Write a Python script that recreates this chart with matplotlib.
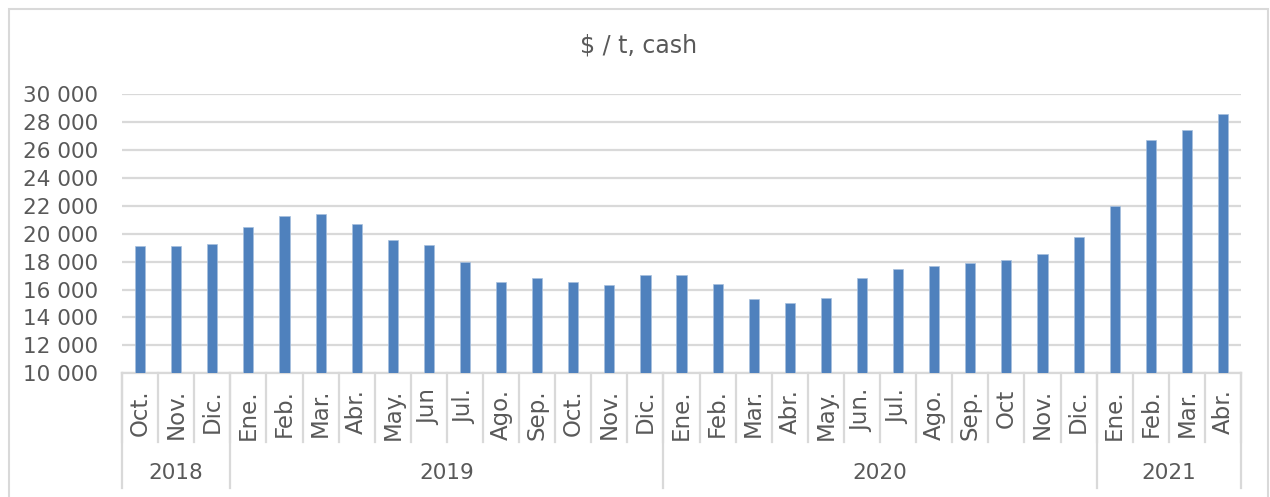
import matplotlib
matplotlib.use('Agg')
import matplotlib.pyplot as plt
from matplotlib.patches import Rectangle
from matplotlib.ticker import FuncFormatter
import numpy as np

months = ['Oct.', 'Nov.', 'Dic.',
          'Ene.', 'Feb.', 'Mar.', 'Abr.', 'May.', 'Jun', 'Jul.', 'Ago.', 'Sep.', 'Oct.', 'Nov.', 'Dic.',
          'Ene.', 'Feb.', 'Mar.', 'Abr.', 'May.', 'Jun.', 'Jul.', 'Ago.', 'Sep.', 'Oct', 'Nov.', 'Dic.',
          'Ene.', 'Feb.', 'Mar.', 'Abr.']
years = ['2018', '2019', '2020', '2021']
months_per_year = [3, 12, 12, 4]
prices = [19120, 19140, 19240,
          20480, 21240, 21430, 20670, 19520, 19170, 17970, 16540, 16820, 16560, 16320, 17060,
          17040, 16420, 15300, 15030, 15390, 16800, 17470, 17660, 17920, 18140, 18570, 19740,
          21960, 26730, 27420, 28550]

text_col = '#595959'
grid_col = '#D9D9D9'
bar_col = '#4F81BD'
font = 'DejaVu Sans'

fig = plt.figure(figsize=(12.70, 4.97), dpi=100)
ax = fig.add_axes([0.0961, 0.2489, 0.8811, 0.5620])

x = np.arange(len(prices))
ax.bar(x, prices, width=0.28, color=bar_col, edgecolor='#A7C0DE', linewidth=0.5, zorder=3)

ax.set_xlim(-0.5, len(prices) - 0.5)
ax.set_ylim(10000, 30000)
ax.set_yticks(np.arange(10000, 30001, 2000))
ax.yaxis.set_major_formatter(FuncFormatter(lambda v, p: f'{int(v):,}'.replace(',', ' ')))
ax.tick_params(axis='y', length=0, pad=17, labelsize=15.5, labelcolor=text_col)
for lab in ax.get_yticklabels():
    lab.set_family(font)
ax.grid(axis='y', color=grid_col, linewidth=1.6, zorder=0)
ax.set_xticks([])
for s in ['top', 'right', 'left']:
    ax.spines[s].set_visible(False)
ax.spines['bottom'].set_color(grid_col)
ax.spines['bottom'].set_linewidth(1.6)

trans = ax.get_xaxis_transform()
# month separators and labels
for b in np.arange(-0.5, len(prices), 1.0):
    ax.plot([b, b], [0, -0.246], transform=trans, color=grid_col, lw=1.6, clip_on=False)
for i, m in enumerate(months):
    ax.text(i, -0.056, m, transform=trans, rotation=90, ha='center', va='top',
            fontsize=16.5, color=text_col, family=font)

# year separators and labels
edges = np.concatenate([[0], np.cumsum(months_per_year)]) - 0.5
for e in edges:
    ax.plot([e, e], [0, -0.411], transform=trans, color=grid_col, lw=1.6, clip_on=False)
for y, a, b in zip(years, edges[:-1], edges[1:]):
    ax.text((a + b) / 2, -0.357, y, transform=trans, ha='center', va='center',
            fontsize=15.5, color=text_col, family=font)

fig.text(0.503, 0.909, '$ / t, cash', ha='center', va='center', fontsize=17,
         color=text_col, family=font)

# chart area border
fig.patches.append(Rectangle((9 / 1270, -0.1), 1259 / 1270, 1.1 - 8.5 / 497,
                             transform=fig.transFigure, fill=False,
                             edgecolor=grid_col, linewidth=1.5))

fig.savefig('out.png', dpi=100)
